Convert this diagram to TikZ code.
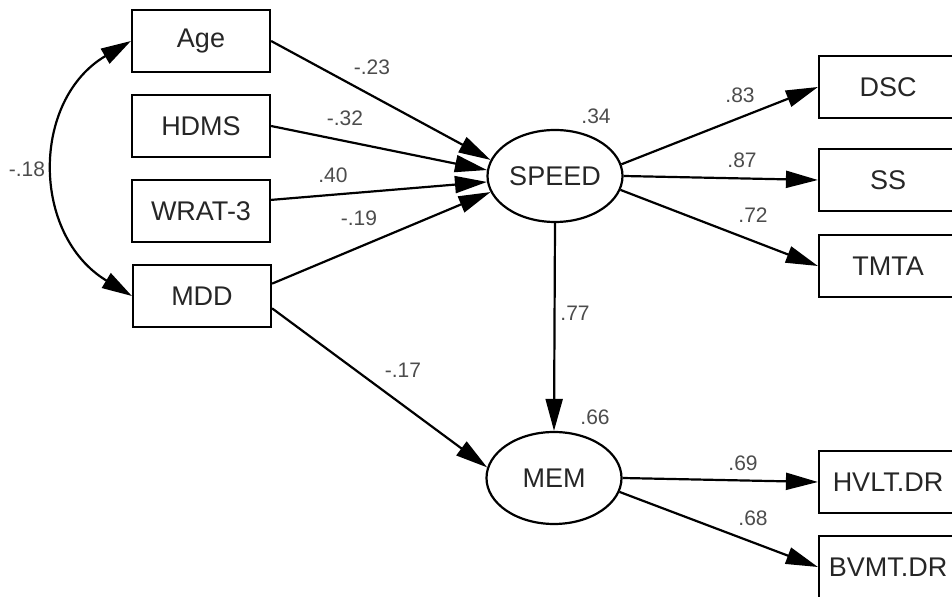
\documentclass[tikz,border=0pt]{standalone}
\usepackage{fontspec}
\setmainfont{Liberation Sans}
\usetikzlibrary{arrows.meta, shapes.geometric}
\tikzset{
  obs/.style={draw, line width=1.1pt, minimum width=69pt, minimum height=31pt,
              inner sep=0pt, font=\fontsize{13.5}{15}\selectfont, text=black!85},
  lat/.style={draw, ellipse, line width=1.1pt, minimum width=67.5pt, minimum height=46pt,
              inner sep=0pt, font=\fontsize{13.5}{15}\selectfont, text=black!85},
  effect/.style={-{Triangle[length=16pt,width=8.5pt]}, line width=1.1pt},
  cov/.style={{Triangle[length=15pt,width=8.5pt]}-{Triangle[length=15pt,width=8.5pt]}, line width=1.1pt},
  coef/.style={font=\fontsize{10.5}{12}\selectfont, text=black!70, inner sep=0pt}
}

\begin{document}
\begin{tikzpicture}[x=0.5pt, y=-0.5pt]
  \useasboundingbox (0,0) rectangle (952,597);

  % Predictors
  \node[obs] (age)  at (201,41)  {Age};
  \node[obs] (hdms) at (201,126) {HDMS};
  \node[obs] (wrat) at (201,211) {WRAT-3};
  \node[obs] (mdd)  at (202,296) {MDD};

  % Latent factors
  \node[lat] (speed) at (555,176) {SPEED};
  \node[lat] (mem)   at (554,478) {MEM};

  % Indicators
  \node[obs] (dsc)  at (888,87)  {DSC};
  \node[obs] (ss)   at (888,180) {SS};
  \node[obs] (tmta) at (888,266) {TMTA};
  \node[obs] (hvlt) at (888,482) {HVLT.DR};
  \node[obs] (bvmt) at (888,567) {BVMT.DR};

  % Paths to SPEED
  \draw[effect] (age.east)  -- (speed.166);
  \draw[effect] (hdms.east) -- (speed.175);
  \draw[effect] (wrat.9)    -- (speed.185);
  \draw[effect] (mdd.10)    -- (speed.194);

  % Paths to MEM
  \draw[effect] (mdd.-10)     -- (mem.171);
  \draw[effect] (speed.south) -- (mem.north);

  % Loadings
  \draw[effect] (speed.10)  -- (dsc.west);
  \draw[effect] (speed.east) -- (ss.west);
  \draw[effect] (speed.-12) -- (tmta.west);
  \draw[effect] (mem.east)  -- (hvlt.west);
  \draw[effect] (mem.-12)   -- (bvmt.west);

  % Covariance
  \draw[cov] (age.west) .. controls (31,100) and (31,235) .. (mdd.west);

  % Coefficients
  \node[coef] (c1)  at (372,67)  {-.23};
  \node[coef] (c2)  at (345,118) {-.32};
  \node[coef] (c3)  at (333,175) {.40};
  \node[coef] (c4)  at (359,218) {-.19};
  \node[coef] (c5)  at (27,169)  {-.18};
  \node[coef] (c6)  at (403,370) {-.17};
  \node[coef] (c7)  at (575,313) {.77};
  \node[coef] (r1)  at (596,116) {.34};
  \node[coef] (r2)  at (595,417) {.66};
  \node[coef] (c8)  at (740,95)  {.83};
  \node[coef] (c9)  at (742,160) {.87};
  \node[coef] (c10) at (753,215) {.72};
  \node[coef] (c11) at (743,463) {.69};
  \node[coef] (c12) at (753,518) {.68};
\end{tikzpicture}
\end{document}
